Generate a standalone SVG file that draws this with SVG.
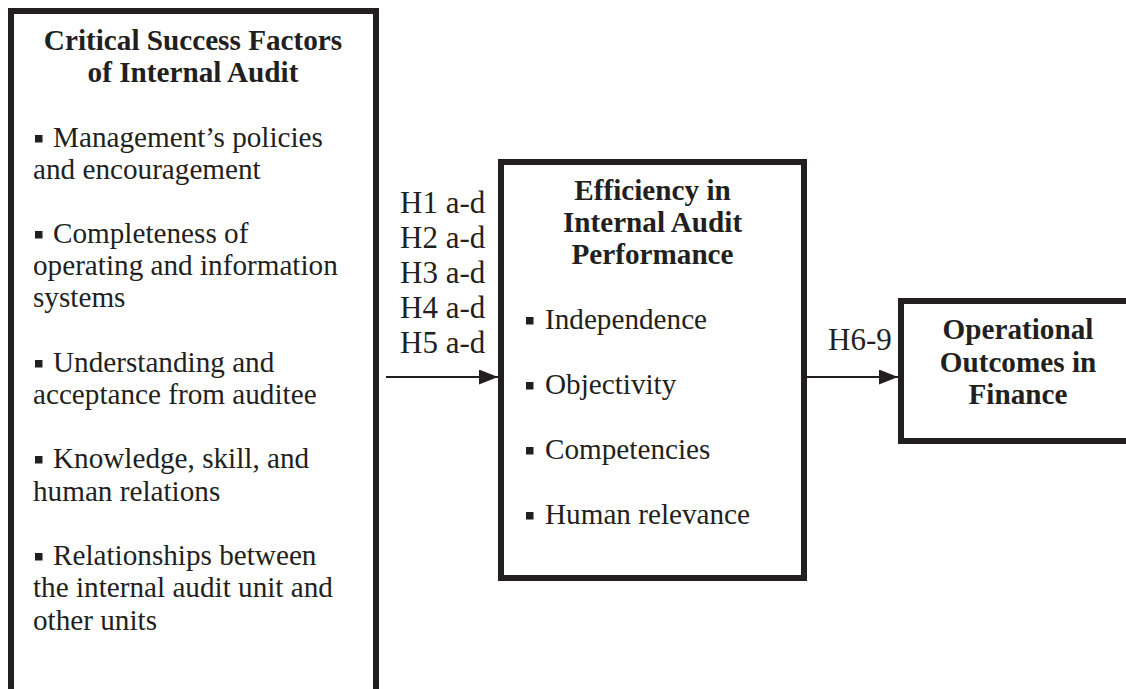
<svg xmlns="http://www.w3.org/2000/svg" width="1126" height="689" viewBox="0 0 1126 689">
<defs>
<style>
.box{fill:#fff;stroke:#231f20;stroke-width:6}
.t{font-family:"Liberation Serif","Times New Roman",serif;fill:#231f20}
.b{font-weight:bold;font-size:29.2px;text-anchor:middle}
.r{font-size:29.2px}
.h{font-size:31px}
.bul{fill:#231f20}
.conn{stroke:#231f20;stroke-width:2;fill:none}
</style>
<marker id="ah" markerUnits="userSpaceOnUse" markerWidth="20" markerHeight="16" refX="19" refY="7.5" orient="auto">
<path d="M0,0 L19,7.5 L0,15 Z" fill="#231f20"/>
</marker>
</defs>
<rect width="1126" height="689" fill="#fff"/>
<g id="csf">
<rect class="box" x="11" y="11" width="365" height="700"/>
<text class="t b" x="193" y="50">Critical Success Factors</text>
<text class="t b" x="193" y="82">of Internal Audit</text>
<g class="bul">
<rect x="35" y="135" width="7.5" height="7.5"/>
<rect x="35" y="231" width="7.5" height="7.5"/>
<rect x="35" y="360" width="7.5" height="7.5"/>
<rect x="35" y="456" width="7.5" height="7.5"/>
<rect x="35" y="553" width="7.5" height="7.5"/>
</g>
<text class="t r" x="53" y="147">Management’s policies</text>
<text class="t r" x="33" y="179">and encouragement</text>
<text class="t r" x="53" y="243">Completeness of</text>
<text class="t r" x="33" y="275">operating and information</text>
<text class="t r" x="33" y="307">systems</text>
<text class="t r" x="53" y="372">Understanding and</text>
<text class="t r" x="33" y="404">acceptance from auditee</text>
<text class="t r" x="53" y="468">Knowledge, skill, and</text>
<text class="t r" x="33" y="501">human relations</text>
<text class="t r" x="53" y="565">Relationships between</text>
<text class="t r" x="33" y="597">the internal audit unit and</text>
<text class="t r" x="33" y="630">other units</text>
</g>
<g id="efficiency">
<rect class="box" x="501" y="162" width="303" height="416"/>
<text class="t b" x="652.5" y="200">Efficiency in</text>
<text class="t b" x="652.5" y="232">Internal Audit</text>
<text class="t b" x="652.5" y="264">Performance</text>
<g class="bul">
<rect x="526" y="317" width="7.5" height="7.5"/>
<rect x="526" y="382" width="7.5" height="7.5"/>
<rect x="526" y="447" width="7.5" height="7.5"/>
<rect x="526" y="512" width="7.5" height="7.5"/>
</g>
<text class="t r" x="545" y="329">Independence</text>
<text class="t r" x="545" y="394">Objectivity</text>
<text class="t r" x="545" y="459">Competencies</text>
<text class="t r" x="545" y="524">Human relevance</text>
</g>
<g id="outcomes">
<rect class="box" x="901" y="301" width="250" height="140"/>
<text class="t b" x="1018" y="339">Operational</text>
<text class="t b" x="1018" y="372">Outcomes in</text>
<text class="t b" x="1018" y="404">Finance</text>
</g>
<g id="connectors">
<line class="conn" x1="386" y1="377" x2="498" y2="377" marker-end="url(#ah)"/>
<line class="conn" x1="807" y1="377" x2="898" y2="377" marker-end="url(#ah)"/>
</g>
<g id="labels">
<text class="t h" x="400" y="213">H1 a-d</text>
<text class="t h" x="400" y="248">H2 a-d</text>
<text class="t h" x="400" y="283">H3 a-d</text>
<text class="t h" x="400" y="318">H4 a-d</text>
<text class="t h" x="400" y="353">H5 a-d</text>
<text class="t h" x="828" y="350">H6-9</text>
</g>
</svg>
